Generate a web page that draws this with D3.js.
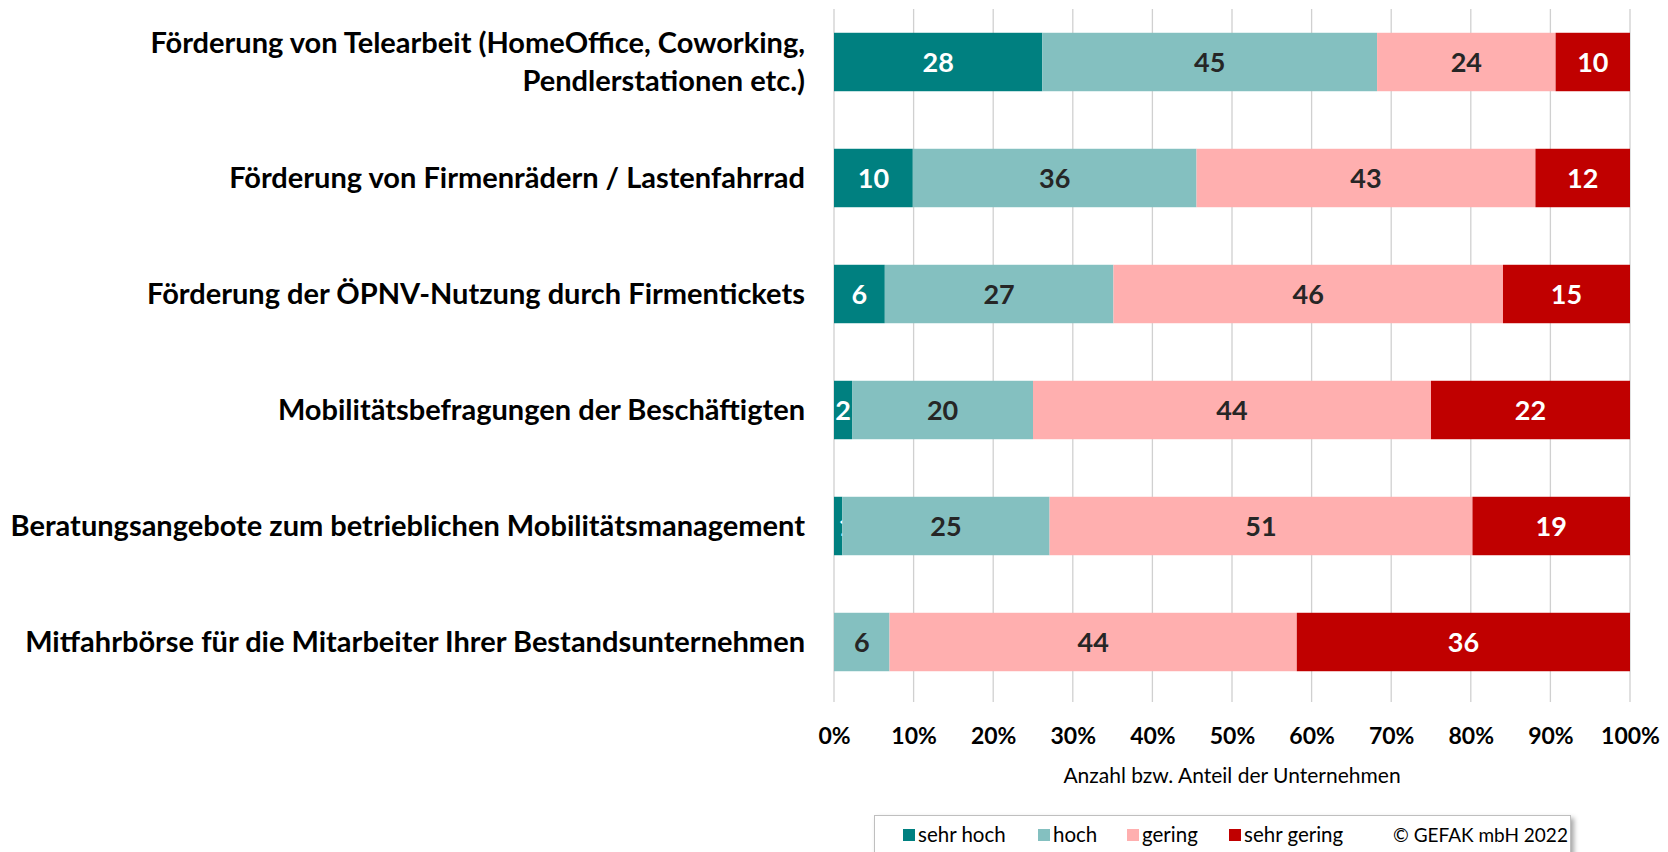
<!DOCTYPE html>
<html><head><meta charset="utf-8">
<script src="https://cdn.jsdelivr.net/npm/d3@7"></script>
<style>
html,body{margin:0;padding:0;background:#fff;}
svg{display:block;font-family:Lato,"Open Sans",sans-serif;}
</style></head>
<body>
<svg id="chart" width="1668" height="852"></svg>
<script>
const categories = [
  ["Förderung von Telearbeit (HomeOffice, Coworking,", "Pendlerstationen etc.)"],
  ["Förderung von Firmenrädern / Lastenfahrrad"],
  ["Förderung der ÖPNV-Nutzung durch Firmentickets"],
  ["Mobilitätsbefragungen der Beschäftigten"],
  ["Beratungsangebote zum betrieblichen Mobilitätsmanagement"],
  ["Mitfahrbörse für die Mitarbeiter Ihrer Bestandsunternehmen"]
];
const seriesNames = ["sehr hoch", "hoch", "gering", "sehr gering"];
const sehrHoch   = [28, 10, 6, 2, 1, 0];
const hoch       = [45, 36, 27, 20, 25, 6];
const gering     = [24, 43, 46, 44, 51, 44];
const sehrGering = [10, 12, 15, 22, 19, 36];
const tickValues = [0, 0.1, 0.2, 0.3, 0.4, 0.5, 0.6, 0.7, 0.8, 0.9, 1.0];
const axisTitle = "Anzahl bzw. Anteil der Unternehmen";
const copyright = "© GEFAK mbH 2022";

const colors = ["#008080", "#84C0C0", "#FFAFAF", "#C00000"];
const labelColors = ["#ffffff", "#262626", "#262626", "#ffffff"];

const svg = d3.select("#chart");
const margin = {left: 834, right: 38, top: 4, bottom: 152};
const W = 1668, H = 852;

const rows = categories.map((c, i) => {
  const vals = [sehrHoch[i], hoch[i], gering[i], sehrGering[i]];
  const tot = d3.sum(vals);
  const o = {idx: i, total: tot};
  seriesNames.forEach((k, j) => { o[k] = vals[j] / tot; o[k + "_raw"] = vals[j]; });
  return o;
});

const x = d3.scaleLinear().domain([0, 1]).range([margin.left, W - margin.right]);
const y = d3.scaleBand().domain(d3.range(categories.length)).range([margin.top, H - margin.bottom]).paddingInner(0.496).paddingOuter(0.248);

// gridlines
svg.append("g").selectAll("line").data(tickValues).join("line")
  .attr("x1", d => x(d)).attr("x2", d => x(d))
  .attr("y1", margin.top + 5).attr("y2", H - margin.bottom + 2)
  .attr("stroke", "#d0d0d0").attr("stroke-width", 1.3);

const stack = d3.stack().keys(seriesNames)(rows);

const g = svg.append("g");
stack.forEach((layer, j) => {
  g.append("g").selectAll("rect").data(layer).join("rect")
    .attr("x", d => x(d[0]))
    .attr("width", d => Math.max(0, x(d[1]) - x(d[0])))
    .attr("y", (d, i) => y(i))
    .attr("height", y.bandwidth())
    .attr("fill", colors[j]);
  g.append("g").selectAll("text").data(layer.filter(d => d.data[seriesNames[j] + "_raw"] > 0)).join("text")
    .attr("x", d => (x(d[0]) + x(d[1])) / 2 + (d.data[seriesNames[j] + "_raw"] === 1 ? 8 : 0))
    .attr("y", d => y(d.data.idx) + y.bandwidth() / 2)
    .attr("dy", "0.36em")
    .attr("text-anchor", "middle")
    .attr("font-weight", 700)
    .attr("font-size", 27)
    .attr("fill", labelColors[j])
    .text(d => d.data[seriesNames[j] + "_raw"]);
});

// category labels
const cat = svg.append("g");
categories.forEach((lines, i) => {
  const cy = y(i) + y.bandwidth() / 2;
  const lh = 38;
  const t = cat.append("text")
    .attr("text-anchor", "end")
    .attr("font-weight", 700)
    .attr("font-size", 29)
    .attr("fill", "#000");
  lines.forEach((ln, k) => {
    t.append("tspan").attr("x", 805)
      .attr("y", cy + (k - (lines.length - 1) / 2) * lh)
      .attr("dy", "0.36em").text(ln);
  });
});

// x axis
const axis = d3.axisBottom(x).tickValues(tickValues).tickFormat(d3.format(".0%")).tickSize(0).tickPadding(0);
const ax = svg.append("g").attr("transform", `translate(0,${H - margin.bottom})`).call(axis);
ax.select(".domain").remove();
ax.selectAll("text").attr("font-family", "Lato").attr("font-size", 23).attr("font-weight", 700)
  .attr("fill", "#000").attr("y", 36).attr("dy", "0.36em");

svg.append("text").attr("x", (x(0) + x(1)) / 2).attr("y", 775).attr("dy", "0.36em")
  .attr("text-anchor", "middle").attr("font-size", 21).attr("fill", "#000").text(axisTitle);

// legend
const defs = svg.append("defs");
const f = defs.append("filter").attr("id", "sh").attr("x", "-5%").attr("y", "-20%").attr("width", "110%").attr("height", "150%");
f.append("feDropShadow").attr("dx", 3).attr("dy", 3).attr("stdDeviation", 2.5).attr("flood-color", "#000").attr("flood-opacity", 0.35);
svg.append("rect").attr("x", 874.5).attr("y", 815.5).attr("width", 696).attr("height", 60)
  .attr("fill", "#fff").attr("stroke", "#bfbfbf").attr("stroke-width", 1).attr("filter", "url(#sh)");
const legX = [903, 1038, 1127, 1229];
const lg = svg.append("g");
seriesNames.forEach((n, j) => {
  lg.append("rect").attr("x", legX[j]).attr("y", 829).attr("width", 12).attr("height", 12).attr("fill", colors[j]);
  lg.append("text").attr("x", legX[j] + 15).attr("y", 835).attr("dy", "0.36em").attr("font-size", 20.5).attr("fill", "#000").text(n);
});
lg.append("text").attr("x", 1393).attr("y", 835).attr("dy", "0.36em").attr("font-size", 19).attr("fill", "#000").text(copyright);
</script>
</body></html>
